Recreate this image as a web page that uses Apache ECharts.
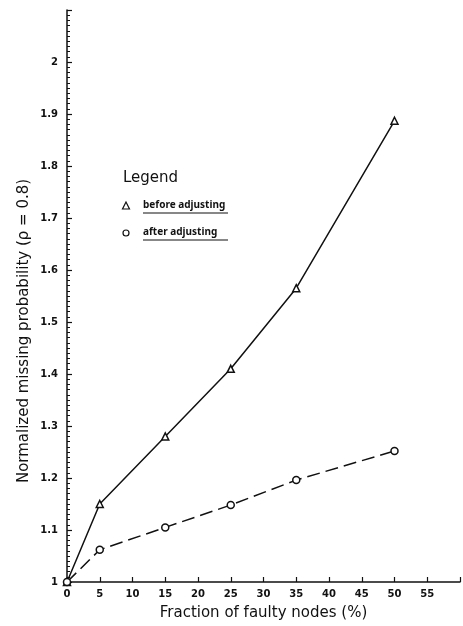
<!DOCTYPE html>
<html>
<head>
<meta charset="utf-8">
<script src="https://cdn.jsdelivr.net/npm/echarts@6/dist/echarts.min.js"></script>
<style>html,body{margin:0;padding:0;background:#fff}#c{width:463px;height:626px}</style>
</head>
<body>
<div id="c"></div>
<script>
const xValues = [0, 5, 15, 25, 35, 50];
const beforeAdjusting = [1.0, 1.15, 1.28, 1.41, 1.565, 1.887];
const afterAdjusting = [1.0, 1.062, 1.105, 1.148, 1.196, 1.252];
const seriesNames = ['before adjusting', 'after adjusting'];
const xAxisName = 'Fraction of faulty nodes (%)';
const yAxisName = 'Normalized missing probability (\u03C1 = 0.8)';
const legendTitle = 'Legend';

const font = 'DejaVu Sans';
const chart = echarts.init(document.getElementById('c'), null, {renderer: 'canvas'});

function pairs(xs, ys) { return xs.map((x, i) => [x, ys[i]]); }

chart.setOption({
  backgroundColor: '#fff',
  animation: false,
  grid: {left: 67, right: 3, top: 10, bottom: 43},
  xAxis: {
    type: 'value', min: 0, max: 60, interval: 5,
    name: xAxisName, nameLocation: 'middle', nameGap: 24,
    nameTextStyle: {fontFamily: font, fontSize: 15, color: '#111'},
    axisLine: {lineStyle: {color: '#111', width: 1.5}},
    axisTick: {inside: true, length: 5, lineStyle: {color: '#111', width: 1.2}},
    axisLabel: {fontFamily: font, fontSize: 10, fontWeight: 'bold', color: '#111', margin: 7,
      formatter: v => v >= 60 ? '' : String(v)},
    splitLine: {show: false}
  },
  yAxis: {
    type: 'value', min: 1, max: 2.1, interval: 0.1,
    axisLine: {lineStyle: {color: '#111', width: 1.5}},
    axisTick: {inside: true, length: 5, lineStyle: {color: '#111', width: 1.2}},
    minorTick: {show: true, splitNumber: 10, length: 3, lineStyle: {color: '#111', width: 1}},
    axisLabel: {fontFamily: font, fontSize: 10, fontWeight: 'bold', color: '#111', margin: 9,
      formatter: v => {
        const r = Math.round(v * 10) / 10;
        if (r > 2.05) return '';
        return Number.isInteger(r) ? String(r) : r.toFixed(1);
      }},
    splitLine: {show: false}
  },
  series: [
    {
      name: seriesNames[0], type: 'line', data: pairs(xValues, beforeAdjusting),
      symbol: 'triangle', symbolSize: 7, showAllSymbol: true,
      lineStyle: {color: '#111', width: 1.5},
      itemStyle: {color: '#fff', borderColor: '#111', borderWidth: 1.5}
    },
    {
      name: seriesNames[1], type: 'line', data: pairs(xValues, afterAdjusting),
      symbol: 'circle', symbolSize: 7, showAllSymbol: true,
      lineStyle: {color: '#111', width: 1.5, type: [13, 6]},
      itemStyle: {color: '#fff', borderColor: '#111', borderWidth: 1.5}
    }
  ],
  graphic: [
    {type: 'text', x: 24, y: 331, rotation: Math.PI / 2,
      style: {text: yAxisName, fontFamily: font, fontSize: 15, fill: '#111', align: 'center', verticalAlign: 'middle'}},
    {type: 'text', left: 123, top: 171, style: {text: legendTitle, fontFamily: font, fontSize: 15, fill: '#111'}},
    {type: 'polygon', shape: {points: [[126, 202], [122.5, 209], [129.5, 209]]}, style: {fill: '#fff', stroke: '#111', lineWidth: 1.2}},
    {type: 'text', left: 143, top: 200, style: {text: seriesNames[0], fontFamily: 'Noto Sans', fontSize: 10, fontWeight: 'bold', fill: '#111'}},
    {type: 'line', shape: {x1: 143, y1: 213, x2: 228, y2: 213}, style: {stroke: '#111', lineWidth: 1.2}},
    {type: 'circle', shape: {cx: 126, cy: 233, r: 3}, style: {fill: '#fff', stroke: '#111', lineWidth: 1.2}},
    {type: 'text', left: 143, top: 227, style: {text: seriesNames[1], fontFamily: 'Noto Sans', fontSize: 10, fontWeight: 'bold', fill: '#111'}},
    {type: 'line', shape: {x1: 143, y1: 240, x2: 228, y2: 240}, style: {stroke: '#111', lineWidth: 1.2}}
  ]
});
</script>
</body>
</html>
